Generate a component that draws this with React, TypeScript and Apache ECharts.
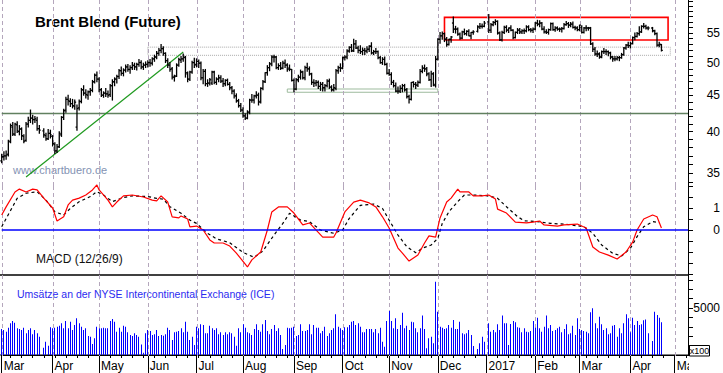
import React, { useEffect, useRef } from 'react';
import * as echarts from 'echarts';

const TITLE = 'Brent Blend (Future)';
const WATERMARK = 'www.chartbuero.de';
const MACD_LABEL = 'MACD (12/26/9)';
const VOLUME_LABEL = 'Umsätze an der NYSE Intercontinental Exchange (ICE)';
const VOLUME_UNIT = 'x100';

// month labels at the first trading day of each month
const monthLabels = ['Mar', 'Apr', 'May', 'Jun', 'Jul', 'Aug', 'Sep', 'Oct', 'Nov', 'Dec', '2017', 'Feb', 'Mar', 'Apr', 'Ma'];
const priceLabels = [35, 40, 45, 50, 55];
const priceMinorTicks = [34, 35, 36, 37, 38, 39, 40, 41, 42, 43, 44, 45, 46, 47, 48, 49, 50, 51, 52, 53, 54, 55, 56, 57, 58, 59, 60, 61];
const macdLabels = [0, 1];
const macdTicks = [-2, -1.5, -1, -0.5, 0, 0.5, 1, 1.5, 2];
const volLabels = [5000];
const volTicks = [0, 1000, 2000, 3000, 4000, 5000, 6000, 7000, 8000];

// daily bars: [open, high, low, close, volume(x100)], null = no trading
const mar16 = [
  [36.4, 37.2, 36.2, 36.9, 2770], [36.9, 37.5, 36.5, 37.0, 2660], [37.0, 37.6, 36.6, 37.1, 2480], [37.2, 38.9, 37.0, 38.7, 2910],
  [38.8, 41.0, 38.6, 40.8, 3370], [40.6, 41.2, 39.5, 39.7, 3620], [39.7, 41.1, 39.5, 41.0, 3440], [40.9, 41.3, 39.9, 40.1, 2840],
  [40.0, 40.8, 39.6, 40.4, 2770], [40.3, 40.5, 39.0, 39.5, 2660], [39.4, 39.6, 38.6, 38.8, 2910], [38.9, 41.2, 38.8, 41.0, 2310],
  [41.0, 41.9, 40.6, 41.5, 2660], [41.5, 42.9, 41.2, 41.8, 2840], [41.8, 42.2, 41.0, 41.6, 2200], [41.6, 42.0, 41.2, 41.7, 2660],
  [41.5, 41.9, 40.2, 40.4, 2310], [40.4, 40.8, 39.8, 40.2, 1950], null, [40.1, 40.4, 39.3, 39.6, 780],
  [39.5, 39.8, 38.9, 39.1, 1420], [39.1, 40.3, 39.0, 39.8, 990], [39.8, 40.2, 39.2, 39.6, 2940],
];
const apr16 = [
  [39.4, 39.5, 38.2, 38.5, 2840], [38.4, 38.6, 37.3, 37.6, 2910], [37.6, 38.4, 37.4, 38.1, 3010], [38.1, 40.0, 38.0, 39.8, 3120],
  [39.6, 42.0, 39.4, 41.9, 3370], [41.9, 43.0, 41.6, 42.8, 2840], [42.9, 44.7, 42.6, 44.4, 3620], [44.4, 45.0, 43.6, 44.2, 2840],
  [44.1, 44.5, 43.4, 43.8, 3550], [43.8, 44.4, 43.2, 43.5, 2660], [43.4, 44.3, 43.0, 44.0, 3190], [40.6, 43.6, 40.2, 43.1, 3900],
  [43.2, 44.3, 42.9, 44.1, 3370], [44.1, 46.0, 43.9, 45.8, 3010], [45.8, 46.4, 45.0, 45.3, 2660], [45.3, 45.8, 44.6, 45.1, 2840],
  [45.0, 45.6, 44.4, 45.5, 2020], [45.5, 46.0, 45.0, 45.7, 1950], [45.7, 47.2, 45.5, 47.0, 1170], [47.0, 48.2, 46.8, 48.0, 1770],
  [48.0, 48.5, 47.0, 47.4, 3010],
];
const may16 = [
  [47.4, 47.6, 45.5, 45.8, 2840], [45.8, 46.0, 44.8, 45.0, 2840], [45.0, 45.5, 44.7, 45.3, 2910], [45.3, 46.0, 44.8, 45.2, 2840],
  [45.2, 45.6, 44.7, 45.0, 2840], [45.1, 46.6, 44.8, 46.4, 3620], [46.4, 47.3, 44.3, 47.0, 3830], [47.0, 47.6, 46.4, 47.4, 3550],
  [47.4, 48.0, 46.8, 47.8, 2480], [47.8, 48.9, 47.5, 48.7, 2910], [48.7, 49.3, 48.0, 48.3, 2480], [48.3, 49.0, 47.9, 48.8, 3120],
  [48.8, 49.6, 48.5, 49.3, 3010], [49.3, 49.7, 48.6, 48.9, 2410], [48.9, 49.5, 48.3, 49.2, 2130], [49.2, 50.0, 48.9, 49.6, 2020],
  [49.5, 49.9, 48.9, 49.3, 2310], [49.3, 49.9, 48.8, 49.7, 2130], [49.7, 50.5, 49.4, 50.0, 1950], [50.0, 50.3, 49.0, 49.3, 1130],
  [49.3, 49.9, 48.9, 49.6, 250], [49.6, 50.1, 49.2, 49.7, 2310],
];
const jun16 = [
  [49.7, 50.3, 49.3, 50.0, 2660], [50.0, 50.5, 49.4, 49.9, 2550], [49.9, 50.8, 49.6, 50.6, 2130], [50.6, 51.2, 50.2, 50.9, 2200],
  [50.9, 51.8, 50.6, 51.5, 2660], [51.5, 52.3, 51.2, 52.0, 2020], [52.0, 53.0, 51.6, 52.3, 2130], [52.3, 52.6, 51.2, 51.5, 2060],
  [51.5, 51.6, 50.0, 50.3, 2200], [50.3, 50.6, 49.2, 49.6, 2910], [49.6, 50.0, 48.6, 48.9, 2660], [49.0, 49.2, 47.4, 47.7, 1600],
  [47.7, 48.0, 47.1, 47.8, 2410], [47.9, 49.8, 47.8, 49.6, 2480], [49.6, 50.7, 49.4, 50.5, 2550], [50.4, 51.0, 50.0, 50.6, 2840],
  [50.6, 51.4, 50.2, 50.9, 2410], [50.8, 51.0, 47.7, 48.4, 3550], [48.2, 48.5, 47.0, 47.4, 2480], [47.4, 48.6, 47.2, 48.5, 1600],
  [48.5, 50.2, 48.3, 50.0, 1950], [50.0, 50.7, 49.2, 49.6, 1060],
];
const jul16 = [
  [49.7, 50.6, 49.3, 50.2, 3010], [50.2, 50.4, 49.2, 49.9, 2840], [49.9, 50.1, 47.3, 47.6, 3260], [47.6, 48.9, 46.7, 48.6, 3190],
  [48.6, 48.9, 46.4, 46.7, 2310], [46.7, 47.3, 46.3, 46.8, 2310], [46.8, 47.5, 46.5, 47.3, 3120], [46.8, 48.6, 46.6, 48.5, 2840],
  [48.5, 48.6, 46.7, 46.9, 2660], [46.9, 47.6, 46.6, 47.4, 2840], [47.4, 48.0, 47.0, 47.6, 2200], [47.6, 47.9, 46.9, 47.1, 2410],
  [47.1, 47.5, 46.3, 46.7, 2130], [46.7, 47.3, 46.4, 47.2, 2410], [47.2, 47.4, 46.5, 46.6, 2200], [46.6, 46.9, 45.8, 46.1, 2410],
  [46.1, 46.3, 45.2, 45.6, 2310], [45.6, 45.8, 44.6, 44.9, 1950], [44.9, 45.2, 44.0, 44.2, 990], [44.2, 44.4, 43.3, 43.5, 2840],
  [43.5, 43.8, 42.7, 42.9, 2410],
];
const aug16 = [
  [42.9, 43.2, 41.9, 42.1, 3260], [42.1, 42.4, 41.6, 41.8, 2910], [41.8, 42.8, 41.7, 42.6, 2410], [42.6, 44.4, 42.4, 44.3, 2310],
  [44.3, 45.1, 44.0, 44.3, 2130], [44.3, 45.0, 43.9, 44.9, 2770], [44.9, 45.5, 44.6, 45.0, 3260], [45.0, 45.3, 43.6, 44.0, 2660],
  [44.1, 46.1, 43.9, 46.0, 2480], [46.0, 47.2, 45.8, 47.0, 3260], [47.0, 48.4, 46.9, 48.4, 3720], [48.4, 49.5, 48.0, 49.2, 2550],
  [49.2, 50.0, 48.7, 49.8, 2200], [49.8, 51.1, 49.5, 50.9, 2770], [50.9, 51.2, 50.1, 50.9, 3190], [50.9, 51.0, 49.0, 49.2, 2550],
  [49.2, 49.8, 48.9, 49.5, 2840], [49.5, 50.0, 48.9, 49.1, 2130], [49.1, 50.2, 49.0, 49.9, 640], [49.9, 50.4, 49.2, 49.6, 1060],
  [49.6, 49.8, 48.6, 48.9, 2910], [49.1, 49.6, 48.7, 48.9, 2840], [48.9, 48.9, 47.1, 47.2, 2910],
];
const sep16 = [
  [47.2, 47.4, 45.5, 45.9, 3010], [45.9, 47.5, 45.8, 47.3, 2020], [47.3, 48.0, 47.0, 47.7, 2130], [47.7, 48.8, 47.4, 48.5, 3260],
  [48.5, 48.6, 47.4, 47.6, 2550], [47.6, 49.4, 47.3, 49.2, 2550], [49.2, 49.9, 48.6, 49.0, 2660], [49.0, 49.3, 48.0, 48.2, 3260],
  [48.2, 48.3, 46.6, 46.9, 2200], [46.9, 47.3, 46.3, 46.8, 3190], [46.8, 47.2, 46.4, 46.9, 2910], [46.9, 47.1, 46.0, 46.3, 2910],
  [46.3, 46.9, 45.7, 46.6, 2310], [46.6, 46.9, 45.6, 46.1, 2550], [46.1, 46.6, 45.6, 46.4, 3010], [46.4, 47.3, 46.2, 47.1, 2020],
  [47.1, 47.4, 46.0, 46.2, 2310], [46.2, 46.4, 45.6, 45.8, 2660], [45.8, 46.6, 45.6, 46.1, 2840], [46.0, 48.9, 45.8, 48.7, 4330],
  [48.7, 49.4, 48.3, 49.2, 3010], [49.2, 49.8, 48.6, 49.1, 2840],
];
const oct16 = [
  [49.1, 50.9, 49.0, 50.8, 2660], [50.8, 51.1, 50.4, 50.9, 2940], [50.9, 52.1, 50.6, 51.9, 2940], [51.9, 52.6, 51.7, 52.5, 3190],
  [52.5, 53.0, 51.8, 51.9, 3550], [52.0, 53.9, 51.8, 53.1, 3620], [53.1, 53.7, 52.3, 52.4, 3190], [52.4, 52.7, 51.6, 52.0, 3370],
  [52.0, 52.8, 51.5, 51.8, 3010], [51.8, 52.4, 51.3, 52.0, 2410], [52.0, 52.3, 51.3, 51.9, 2410], [51.9, 52.6, 51.6, 52.2, 2770],
  [52.2, 52.8, 51.8, 52.7, 2770], [52.7, 53.3, 51.4, 51.6, 2770], [51.6, 52.0, 51.3, 51.8, 2410], [51.8, 52.3, 51.5, 51.8, 2770],
  [51.8, 51.9, 50.6, 50.8, 2310], [50.8, 51.0, 49.9, 50.0, 2910], [50.0, 50.8, 49.7, 50.5, 1420], [50.5, 50.9, 49.6, 49.7, 890],
  [49.7, 49.9, 48.2, 48.3, 3620],
];
const nov16 = [
  [48.3, 48.9, 48.0, 48.1, 4680], [48.1, 48.4, 46.6, 46.9, 3620], [46.9, 47.2, 46.2, 46.4, 2840], [46.4, 46.8, 45.5, 45.6, 3900],
  [45.6, 46.2, 45.3, 45.6, 2770], [45.6, 46.4, 45.4, 46.0, 3190], [46.0, 46.6, 45.5, 46.4, 4500], [46.4, 46.6, 45.6, 45.8, 2840],
  [45.8, 46.0, 44.6, 44.8, 3120], [44.8, 45.0, 43.9, 44.4, 2660], [44.4, 46.9, 44.3, 46.9, 3550], [46.9, 47.0, 46.2, 46.6, 3480],
  [46.6, 46.9, 46.0, 46.5, 2840], [46.5, 47.1, 46.3, 46.9, 2410], [46.9, 48.9, 46.8, 48.6, 2840], [48.6, 49.5, 48.4, 49.1, 4190],
  [49.1, 49.6, 48.6, 49.0, 2770], [49.0, 49.2, 47.9, 48.2, 710], [48.2, 48.4, 47.2, 47.3, 1770], [47.3, 48.6, 46.3, 48.2, 1950],
  [48.2, 48.4, 46.4, 46.4, 1240], [46.6, 51.0, 46.2, 50.5, 7800],
];
const dec16 = [
  [50.6, 54.0, 50.4, 53.9, 4610], [53.9, 55.1, 53.2, 54.5, 3010], [54.5, 55.2, 53.9, 54.9, 2910], [54.9, 55.0, 53.5, 53.9, 2770],
  [53.9, 54.2, 52.7, 53.0, 2840], [53.0, 53.9, 52.9, 53.9, 3190], [53.9, 54.4, 53.4, 54.3, 2910], [56.8, 57.9, 55.1, 55.7, 3720],
  [55.7, 56.2, 55.0, 55.7, 2770], [55.7, 55.9, 54.6, 54.8, 2770], [54.8, 55.0, 53.9, 54.1, 3550], [54.1, 55.3, 54.0, 55.2, 2310],
  [55.2, 55.7, 54.7, 54.9, 2200], [54.9, 55.4, 54.6, 55.3, 2310], [55.3, 55.6, 54.5, 54.5, 2660], [54.5, 55.1, 54.0, 55.1, 2130],
  [55.1, 55.4, 54.8, 55.2, 960], null, [55.3, 56.3, 55.2, 56.1, 640], [56.1, 56.7, 55.8, 56.2, 1240],
  [56.2, 56.6, 55.9, 56.2, 1950], [56.2, 57.1, 56.1, 56.8, 1420],
];
const jan17 = [
  null, [57.0, 58.4, 55.1, 55.5, 3370], [55.5, 56.7, 55.1, 56.5, 2480], [56.5, 57.1, 56.3, 56.9, 2660],
  [56.9, 57.4, 56.5, 57.1, 2410], [57.1, 57.2, 54.8, 55.0, 3260], [55.0, 55.2, 53.7, 53.8, 2660], [53.8, 55.3, 53.6, 55.1, 4190],
  [55.1, 56.2, 54.9, 56.0, 3370], [56.0, 56.3, 55.2, 55.5, 3370], [55.5, 55.9, 55.1, 55.9, 1060], [55.9, 56.3, 55.4, 55.5, 3300],
  [55.5, 55.6, 54.0, 54.2, 3620], [54.2, 55.2, 54.1, 55.1, 3480], [55.1, 55.8, 54.9, 55.5, 2940], [55.5, 55.8, 54.9, 55.2, 2910],
  [55.2, 55.6, 54.9, 55.4, 2410], [55.4, 55.7, 54.9, 55.4, 2840], [55.4, 56.3, 55.2, 56.1, 2480], [56.1, 56.3, 55.4, 55.6, 2410],
  [55.6, 55.8, 55.2, 55.5, 2550], [55.5, 55.9, 55.1, 55.7, 3620],
];
const feb17 = [
  [55.7, 56.9, 55.6, 56.8, 2910], [56.8, 57.3, 56.3, 56.6, 3970], [56.6, 57.2, 56.1, 56.8, 2840], [56.8, 56.9, 55.6, 55.7, 2480],
  [55.7, 56.1, 55.0, 55.2, 3010], [55.2, 55.6, 54.9, 55.1, 4190], [55.1, 55.7, 54.8, 55.6, 2840], [55.6, 56.8, 55.5, 56.7, 3190],
  [56.7, 56.8, 55.5, 55.6, 2550], [55.6, 56.1, 55.3, 55.9, 2660], [55.9, 56.1, 55.5, 55.7, 2840], [55.7, 55.9, 55.3, 55.7, 3010],
  [55.7, 56.0, 55.2, 55.8, 2410], [55.8, 56.7, 55.7, 56.5, 2770], [56.5, 57.1, 56.4, 56.7, 3260], [56.7, 56.9, 56.0, 56.4, 2200],
  [56.4, 56.9, 56.1, 56.6, 2310], [56.6, 57.0, 55.9, 56.0, 3120], [56.0, 56.2, 55.6, 55.9, 2130], [55.9, 56.1, 55.4, 55.6, 3900],
];
const mar17 = [
  [55.6, 56.4, 55.4, 56.4, 2770], [56.0, 56.3, 55.0, 55.1, 2660], [55.1, 56.0, 55.0, 55.9, 2550], [55.9, 56.3, 55.4, 55.9, 2480],
  [55.9, 56.0, 55.5, 55.9, 2310], [55.9, 56.0, 53.0, 53.1, 4540], [53.1, 53.3, 51.8, 52.2, 4970], [52.2, 52.5, 51.2, 51.4, 3370],
  [51.4, 51.9, 51.0, 51.4, 2840], [51.4, 51.6, 50.7, 50.9, 4080], [50.9, 51.9, 50.8, 51.8, 3260], [51.8, 52.3, 51.5, 51.8, 2660],
  [51.8, 52.1, 51.3, 51.8, 2840], [51.8, 51.9, 51.1, 51.6, 2200], [51.6, 51.7, 50.6, 50.9, 2310], [50.9, 51.0, 50.2, 50.6, 3120],
  [50.6, 51.0, 50.3, 50.6, 3190], [50.6, 51.0, 50.4, 50.8, 1950], [50.8, 51.0, 50.3, 50.8, 2840], [50.8, 51.5, 50.7, 51.3, 2310],
  [51.3, 52.5, 51.2, 52.4, 3370], [52.4, 53.0, 52.2, 52.9, 4330], [52.9, 53.4, 52.5, 52.8, 3900],
];
const apr17 = [
  [52.8, 53.4, 52.4, 53.1, 2410], [53.2, 54.3, 53.1, 54.2, 3970], [54.2, 55.0, 53.8, 54.4, 3190], [54.4, 55.1, 54.3, 54.9, 3620],
  [54.9, 56.1, 54.6, 55.2, 3190], [55.2, 56.3, 55.1, 56.2, 3260], [56.2, 56.7, 55.9, 56.2, 3690], [56.2, 56.4, 55.7, 55.9, 3790],
  [55.9, 56.1, 55.6, 55.9, 2310], null, [55.9, 56.0, 55.2, 55.4, 1490], [55.4, 55.5, 54.7, 54.9, 4610],
  [54.9, 55.0, 52.7, 52.9, 4260], [52.9, 53.4, 52.6, 53.0, 3970], [53.0, 53.0, 51.9, 52.0, 3480],
];

// MACD (red) and signal (dashed): [trading-day index, value]
const macdLine = [
  [0, 0.68], [2, 1.05], [6, 1.73], [8, 1.86], [11, 1.73], [14, 1.86], [16, 1.82], [19, 1.45], [23, 1.0], [25, 0.41],
  [28, 0.6], [30, 1.14], [32, 1.36], [35, 1.45], [38, 1.59], [41, 1.82], [43, 2.05], [44, 1.82], [48, 1.36], [50, 1.05],
  [52, 1.27], [55, 1.55], [59, 1.59], [64, 1.5], [68, 1.36], [70, 1.32], [72, 1.55], [75, 1.27], [77, 0.6], [80, 0.55],
  [81, 0.64], [84, 0.5], [85, 0.14], [88, 0.18], [91, 0], [94, -0.45], [96, -0.59], [100, -0.59], [103, -0.73], [106, -1.05],
  [111, -1.68], [113, -1.36], [117, -1.0], [120, 0], [122, 0.82], [125, 1.05], [129, 1.05], [132, 0.77], [136, 0.23], [139, 0.32],
  [145, -0.32], [150, -0.32], [151, -0.14], [155, 0.82], [159, 1.27], [162, 1.36], [166, 1.23], [169, 1.05], [172, 0.6], [175, 0.09],
  [179, -0.82], [181, -1.05], [184, -1.41], [188, -1.14], [191, -0.59], [193, -0.27], [196, -0.32], [198, 0.55], [201, 1.27], [203, 1.45],
  [206, 1.86], [207, 1.73], [211, 1.73], [213, 1.55], [217, 1.55], [220, 1.59], [223, 1.41], [224, 0.95], [228, 0.77], [232, 0.36],
  [237, 0.32], [240, 0.36], [243, 0.41], [245, 0.23], [251, 0.18], [254, 0.23], [260, 0.27], [264, 0.09], [267, -0.77], [270, -1.0],
  [274, -1.14], [278, -1.32], [282, -1.0], [285, -0.55], [287, 0], [290, 0.5], [294, 0.68], [296, 0.6], [298, 0.09],
];
const signalLine = [
  [0, 0.15], [7, 1.44], [11, 1.67], [16, 1.74], [20, 1.36], [24, 0.83], [28, 0.68], [31, 0.98], [35, 1.29], [40, 1.52],
  [43, 1.74], [46, 1.59], [50, 1.29], [55, 1.48], [59, 1.55], [66, 1.52], [70, 1.44], [73, 1.4], [76, 1.06], [81, 0.76],
  [85, 0.45], [88, 0.3], [93, -0.15], [97, -0.4], [103, -0.58], [109, -1.02], [114, -1.24], [118, -0.95], [123, -0.23], [127, 0.3],
  [130, 0.76], [135, 0.45], [139, 0.38], [144, 0], [150, -0.15], [154, 0], [157, 0.53], [162, 1.12], [168, 1.18], [172, 0.98],
  [175, 0.45], [179, -0.23], [183, -0.76], [187, -1.03], [190, -0.83], [194, -0.68], [197, -0.38], [199, 0.3], [202, 0.83], [206, 1.29],
  [209, 1.59], [213, 1.59], [220, 1.55], [224, 1.44], [228, 1.06], [233, 0.61], [236, 0.42], [242, 0.38], [248, 0.3], [255, 0.26],
  [263, 0.15], [267, -0.15], [271, -0.68], [276, -1.06], [280, -1.18], [284, -0.83], [287, -0.3], [290, 0.15], [294, 0.38], [297, 0.33],
];

// drawn studies (price units, trading-day indices)
const supportLevel = 42.6;
const trendLine = [[11, 34.57], [82, 51.73]];
const grayZone = [[66, 52.55], [302, 51.18]];
const greenZone = [[129, 45.91], [197, 45.43]];
const redZone = [[200, 57.85], [301, 53.77]];

const FONT = '"Liberation Sans", Arial, Helvetica, sans-serif';
const LN = Math.log;
const GRID_COLOR = '#b4a6bc';

// trading-day calendar (weekdays) 2016-03-01 .. 2017-05-09
const categories: string[] = [];
for (let t = Date.UTC(2016, 2, 1); t <= Date.UTC(2017, 4, 9); t += 86400000) {
  const d = new Date(t);
  const wd = d.getUTCDay();
  if (wd !== 0 && wd !== 6) categories.push(d.toISOString().slice(0, 10));
}
const monthStartIdx: number[] = [];
categories.forEach((c, i) => {
  if (i === 0 || c.slice(5, 7) !== categories[i - 1].slice(5, 7)) monthStartIdx.push(i);
});
const isMonthStart = (i: number) => monthStartIdx.indexOf(i) >= 0;
const isMonday = (i: number) => new Date(categories[i] + 'T00:00:00Z').getUTCDay() === 1;

const bars = [mar16, apr16, may16, jun16, jul16, aug16, sep16, oct16, nov16, dec16, jan17, feb17, mar17, apr17].flat() as (number[] | null)[];
const ohlcData: number[][] = [];
const volData: number[][] = [];
bars.forEach((b, i) => {
  if (!b) return;
  ohlcData.push([i, LN(b[0]), LN(b[1]), LN(b[2]), LN(b[3])]);
  volData.push([i, b[4]]);
});

const PRICE_MIN = LN(33.575);
const PRICE_MAX = LN(61.18);
const GRID_LEFT = 1.7;
const GRID_W = 686.65;

function xAxisFor(gridIndex: number, extra: any = {}) {
  return {
    type: 'category',
    gridIndex,
    data: categories,
    boundaryGap: false,
    axisLine: { show: false },
    axisTick: { show: false },
    axisLabel: { show: false },
    splitLine: { show: false },
    ...extra,
  };
}

function yAxisFor(gridIndex: number, min: number, max: number, ticks: number[], labels: number[], fmt: (v: number) => string) {
  return {
    type: 'value',
    gridIndex,
    position: 'right',
    min,
    max,
    axisLine: { show: true, lineStyle: { color: '#000', width: 1 } },
    axisTick: { show: true, length: 5, customValues: ticks, lineStyle: { color: '#000' } },
    axisLabel: {
      show: true,
      customValues: labels,
      formatter: fmt,
      align: 'right',
      margin: 32,
      color: '#000',
      fontSize: 12,
      fontFamily: FONT,
    },
    splitLine: { show: false },
  };
}

// month gridline: crisp dashed vertical line over the full panel height
function renderGridLine(params: any, api: any) {
  const cs = params.coordSys;
  const p = api.coord([api.value(0), api.value(1)]);
  const x = Math.round(p[0]) + 0.5;
  return {
    type: 'line',
    shape: { x1: x, y1: cs.y, x2: x, y2: cs.y + cs.height + 1 },
    style: { stroke: GRID_COLOR, lineWidth: 1, lineDash: [4, 3] },
  };
}

function gridLineSeries(gridIndex: number, yRef: number) {
  return {
    type: 'custom',
    name: 'months' + gridIndex,
    xAxisIndex: gridIndex,
    yAxisIndex: gridIndex,
    data: monthStartIdx.map((i) => [i, yRef]),
    encode: { x: 0, y: 1 },
    renderItem: renderGridLine,
    clip: false,
    silent: true,
    z: 1,
  };
}

function renderOHLC(_params: any, api: any) {
  const i = api.value(0);
  const o = api.coord([i, api.value(1)]);
  const h = api.coord([i, api.value(2)]);
  const l = api.coord([i, api.value(3)]);
  const c = api.coord([i, api.value(4)]);
  const x = h[0];
  const style = { stroke: '#000', lineWidth: 1.3 };
  return {
    type: 'group',
    children: [
      { type: 'line', shape: { x1: x, y1: h[1] - 0.5, x2: x, y2: l[1] + 0.5 }, style },
      { type: 'line', shape: { x1: x - 1.4, y1: o[1], x2: x, y2: o[1] }, style },
      { type: 'line', shape: { x1: x, y1: c[1], x2: x + 1.4, y2: c[1] }, style },
    ],
  };
}

function renderVolume(_params: any, api: any) {
  const i = api.value(0);
  const top = api.coord([i, api.value(1)]);
  const base = api.coord([i, 0]);
  const x = Math.round(top[0] - 0.5);
  return {
    type: 'rect',
    shape: { x, y: top[1], width: 1, height: base[1] - top[1] },
    style: { fill: '#0000ff' },
  };
}

const zoneStyle = (color: string, width: number, type: any) => ({
  color: 'rgba(0,0,0,0)',
  borderColor: color,
  borderWidth: width,
  borderType: type,
});

const option: any = {
  animation: false,
  backgroundColor: '#ffffff',
  grid: [
    { left: GRID_LEFT, width: GRID_W, top: 0, height: 186 },
    { left: GRID_LEFT, width: GRID_W, top: 186, height: 88 },
    { left: GRID_LEFT, width: GRID_W, top: 275, height: 80 },
  ],
  xAxis: [
    xAxisFor(0),
    xAxisFor(1),
    xAxisFor(2, {
      axisLine: { show: true, lineStyle: { color: '#000', width: 1 } },
      axisTick: { show: true, length: 18, interval: (i: number) => isMonthStart(i), lineStyle: { color: '#000' } },
      axisLabel: {
        show: true,
        interval: (i: number) => isMonthStart(i),
        formatter: (_v: string, i: number) => monthLabels[monthStartIdx.indexOf(i)] || '',
        align: 'left',
        margin: 5,
        padding: [0, 0, 0, 2],
        color: '#000',
        fontSize: 12,
        fontFamily: FONT,
      },
    }),
    {
      type: 'category',
      gridIndex: 2,
      data: categories,
      boundaryGap: false,
      position: 'bottom',
      axisLine: { show: false },
      axisTick: { show: true, length: 3, interval: (i: number) => isMonday(i), lineStyle: { color: '#000' } },
      axisLabel: { show: false },
      splitLine: { show: false },
    },
  ],
  yAxis: [
    yAxisFor(0, PRICE_MIN, PRICE_MAX, priceMinorTicks.map(LN), priceLabels.map(LN), (v: number) => String(Math.round(Math.exp(v)))),
    yAxisFor(1, -2, 2, macdTicks, macdLabels, (v: number) => String(v)),
    yAxisFor(2, 0, 8511, volTicks, volLabels, (v: number) => String(v)),
  ],
  series: [
    gridLineSeries(0, LN(45)),
    gridLineSeries(1, 0),
    gridLineSeries(2, 0),
    {
      type: 'custom',
      name: 'Brent',
      xAxisIndex: 0,
      yAxisIndex: 0,
      data: ohlcData,
      encode: { x: 0, y: [1, 2, 3, 4] },
      renderItem: renderOHLC,
      clip: false,
      silent: true,
      z: 5,
      markLine: {
        silent: true,
        symbol: ['none', 'none'],
        label: { show: false },
        data: [
          { yAxis: LN(supportLevel), lineStyle: { color: '#61805f', width: 1.3, type: 'solid' } },
          [
            { coord: [trendLine[0][0], LN(trendLine[0][1])], lineStyle: { color: '#1f9a1f', width: 1.2, type: 'solid' } },
            { coord: [trendLine[1][0], LN(trendLine[1][1])] },
          ],
        ],
      },
      markArea: {
        silent: true,
        label: { show: false },
        data: [
          [
            { coord: [grayZone[0][0], LN(grayZone[0][1])], itemStyle: zoneStyle('#aaaaaa', 1, 'dotted') },
            { coord: [grayZone[1][0], LN(grayZone[1][1])] },
          ],
          [
            { coord: [greenZone[0][0], LN(greenZone[0][1])], itemStyle: zoneStyle('#9dbb9d', 1, 'solid') },
            { coord: [greenZone[1][0], LN(greenZone[1][1])] },
          ],
          [
            { coord: [redZone[0][0], LN(redZone[0][1])], itemStyle: zoneStyle('#ff0000', 1.6, 'solid') },
            { coord: [redZone[1][0], LN(redZone[1][1])] },
          ],
        ],
      },
    },
    {
      type: 'line',
      name: 'MACD',
      xAxisIndex: 1,
      yAxisIndex: 1,
      data: macdLine,
      symbol: 'none',
      clip: false,
      silent: true,
      lineStyle: { color: '#ff0000', width: 1.2 },
      z: 4,
      markLine: {
        silent: true,
        symbol: ['none', 'none'],
        label: { show: false },
        data: [{ yAxis: 0, lineStyle: { color: '#0000ff', width: 1.5, type: 'solid' } }],
      },
    },
    {
      type: 'line',
      name: 'Signal',
      xAxisIndex: 1,
      yAxisIndex: 1,
      data: signalLine,
      symbol: 'none',
      clip: false,
      silent: true,
      lineStyle: { color: '#000000', width: 1.2, type: [3, 3] },
      z: 3,
    },
    {
      type: 'custom',
      name: 'Volume',
      xAxisIndex: 2,
      yAxisIndex: 2,
      data: volData,
      encode: { x: 0, y: 1 },
      renderItem: renderVolume,
      silent: true,
      z: 3,
    },
  ],
  graphic: [
    { type: 'text', x: 35, y: 21, style: { text: TITLE, font: `bold 15px ${FONT}`, fill: '#000', verticalAlign: 'middle' } },
    { type: 'text', x: 13, y: 169.5, style: { text: WATERMARK, font: `11px ${FONT}`, fill: '#8493b3', verticalAlign: 'middle' } },
    { type: 'text', x: 36, y: 258.5, style: { text: MACD_LABEL, font: `12px ${FONT}`, fill: '#111', verticalAlign: 'middle' } },
    { type: 'text', x: 17, y: 294, style: { text: VOLUME_LABEL, font: `10.5px ${FONT}`, fill: '#2b2bf0', verticalAlign: 'middle' } },
    { type: 'line', shape: { x1: 0, y1: 275, x2: 688.5, y2: 275 }, style: { stroke: '#000', lineWidth: 1.5 } },
    { type: 'line', shape: { x1: 0, y1: 355, x2: 688.5, y2: 355 }, style: { stroke: '#000', lineWidth: 1 } },
    { type: 'rect', z: 50, shape: { x: 689, y: 357, width: 34, height: 16 }, style: { fill: '#fff' } },
    { type: 'rect', z: 60, shape: { x: 689.5, y: 345.5, width: 20, height: 10.5 }, style: { fill: '#fff', stroke: '#000', lineWidth: 1 } },
    { type: 'text', z: 61, x: 699.5, y: 351, style: { text: VOLUME_UNIT, font: `9px ${FONT}`, fill: '#000', align: 'center', verticalAlign: 'middle' } },
  ],
};

export default function App() {
  const ref = useRef<HTMLDivElement>(null);
  useEffect(() => {
    if (!ref.current) return;
    const chart = echarts.init(ref.current, null, { renderer: 'svg' });
    chart.setOption(option);
    return () => chart.dispose();
  }, []);
  return (
    <div
      ref={ref}
      style={{ position: 'absolute', left: 0, top: 0, width: 723, height: 373, background: '#fff' }}
    />
  );
}
